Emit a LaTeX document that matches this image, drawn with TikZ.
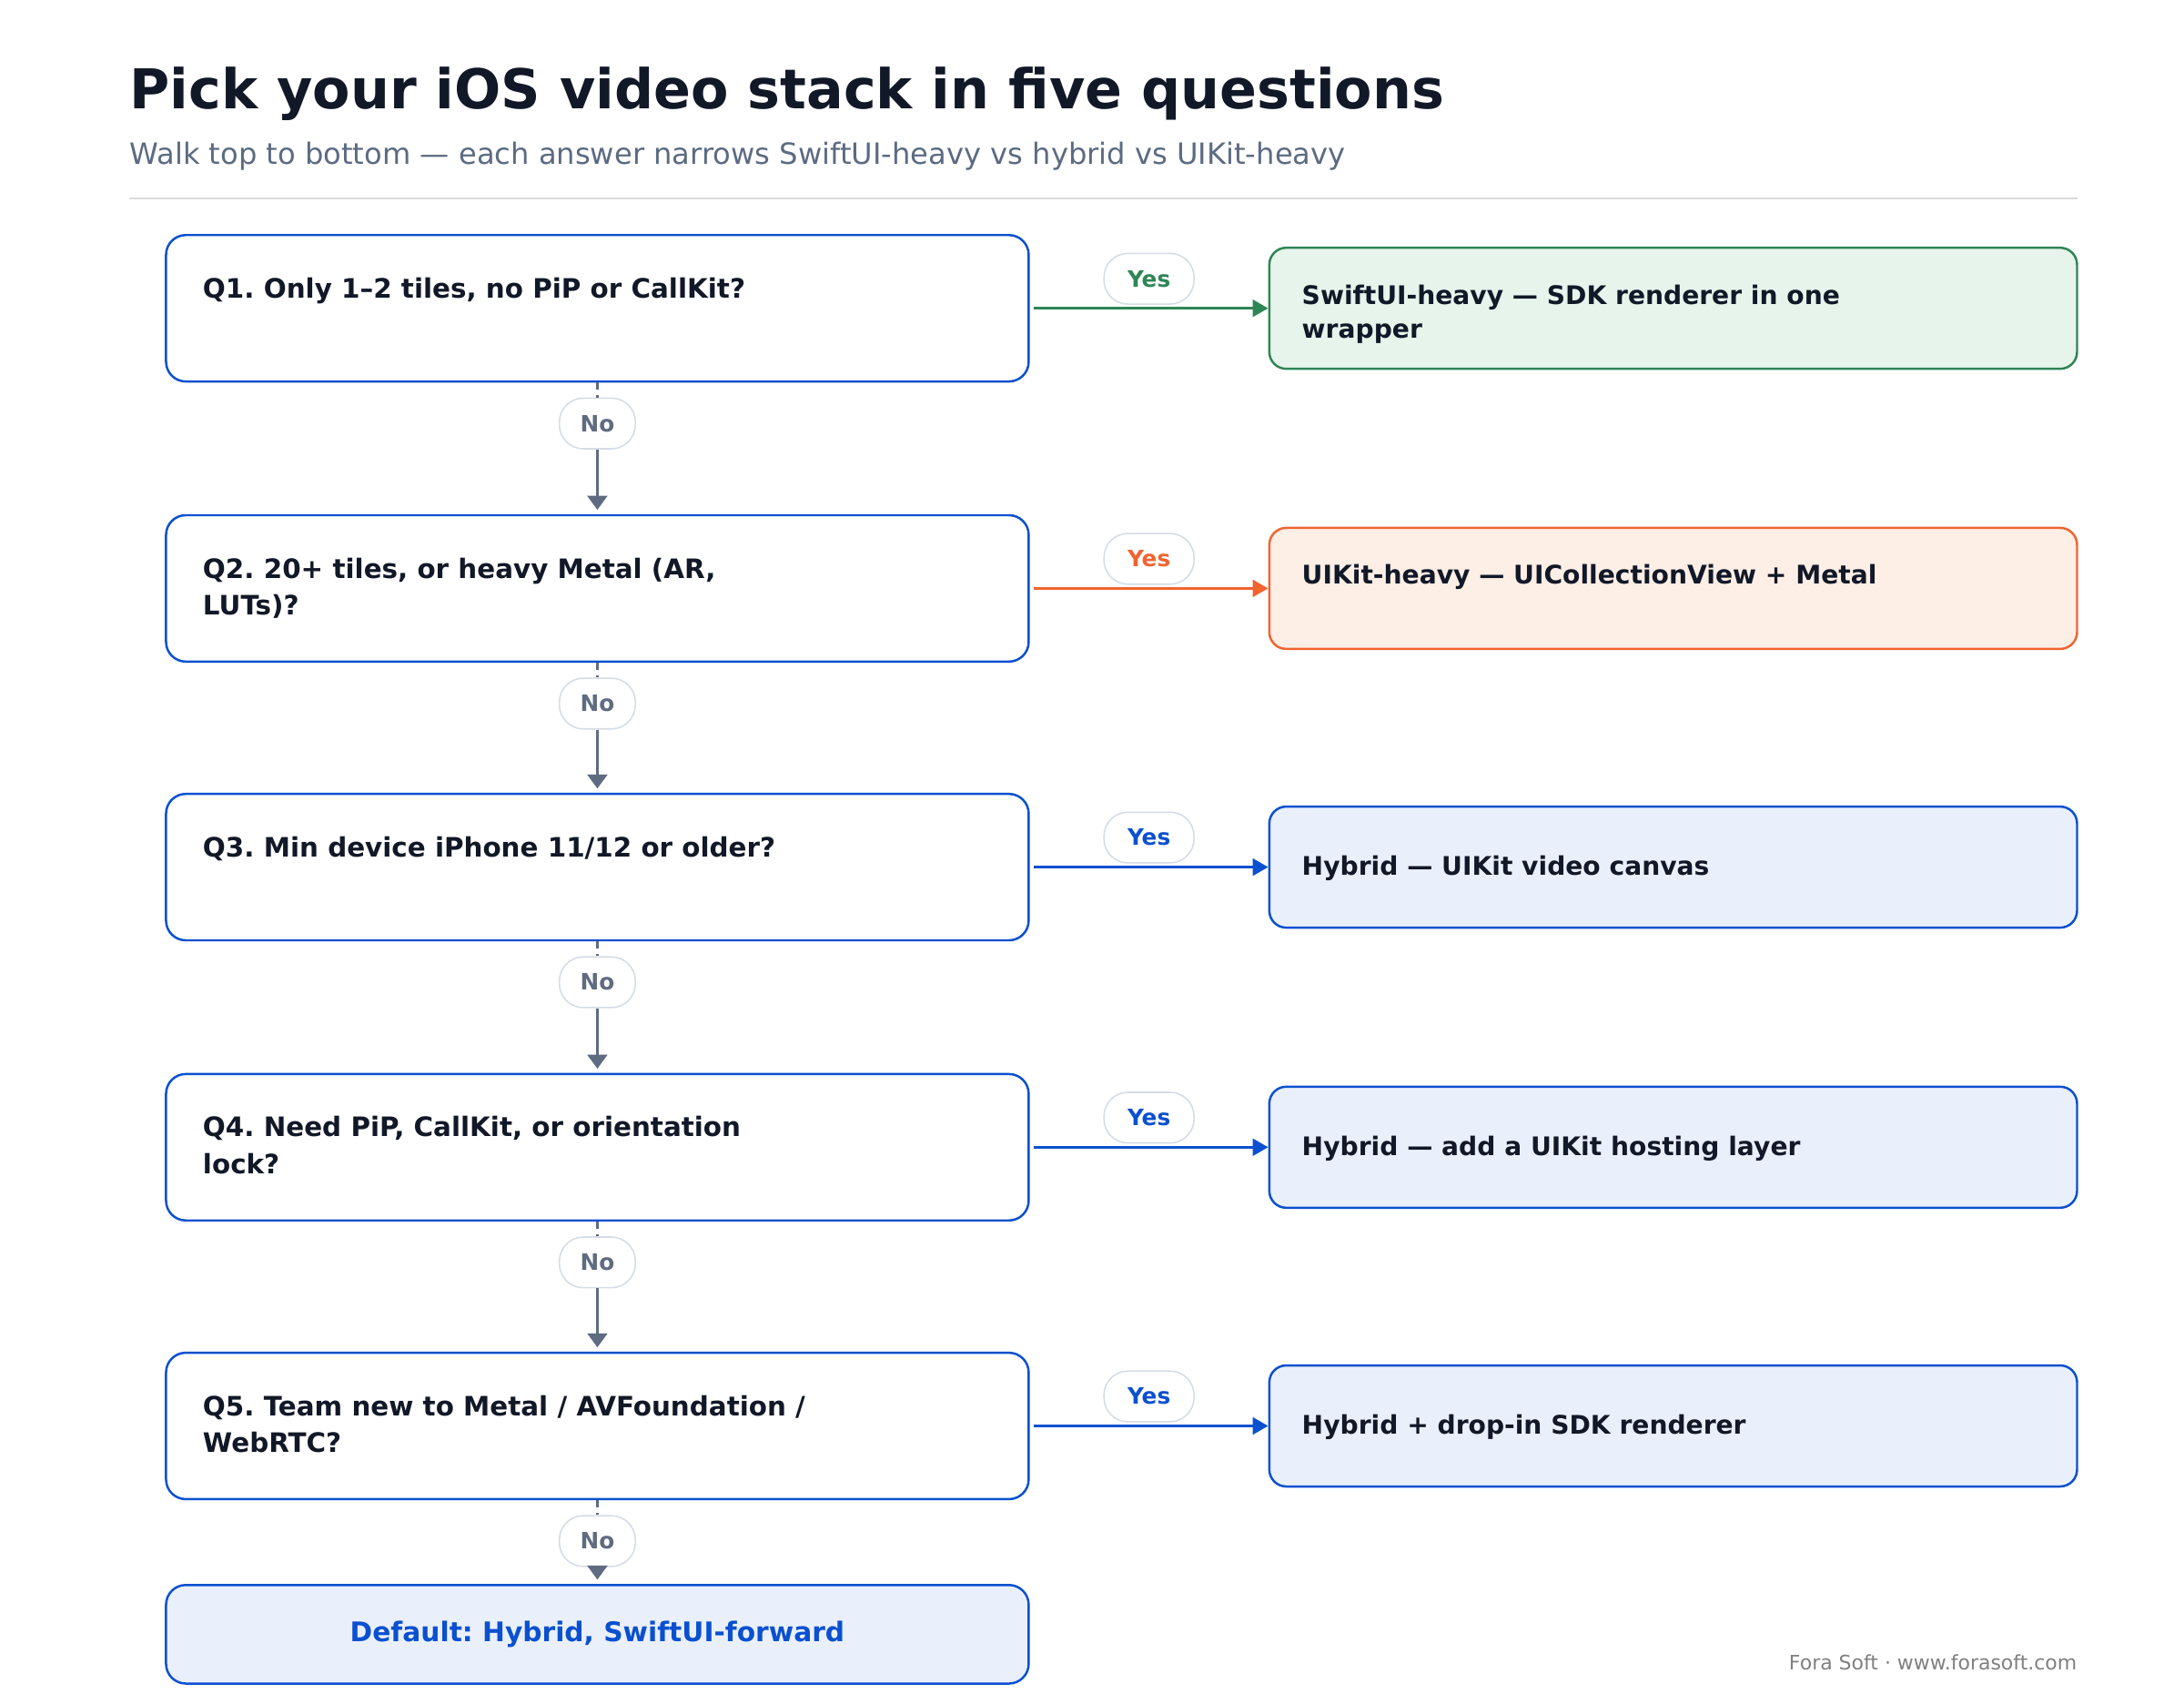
\documentclass[tikz,border=0pt]{standalone}
\usepackage{fontspec}
\setmainfont{DejaVu Sans}
\usetikzlibrary{arrows.meta,calc}
\definecolor{ink}{HTML}{111827}
\definecolor{sub}{HTML}{5B6B82}
\definecolor{qblue}{HTML}{0A50D0}
\definecolor{bfill}{HTML}{EAF0FB}
\definecolor{gline}{HTML}{2E8555}
\definecolor{gfill}{HTML}{E6F4EC}
\definecolor{oline}{HTML}{F06430}
\definecolor{ofill}{HTML}{FDEEE6}
\definecolor{noc}{HTML}{5F6B80}
\definecolor{pill}{HTML}{D5DCE6}
\begin{document}
\frenchspacing
\begin{tikzpicture}[x=1pt,y=-1pt,
  qbox/.style={draw=qblue,line width=1.6pt,fill=white,rounded corners=14pt,minimum width=613pt,minimum height=104pt,inner sep=0pt},
  qtxt/.style={anchor=north west,align=left,font=\bfseries\fontsize{19}{26}\selectfont,text=ink,inner sep=0pt},
  abox/.style={draw=#1,line width=1.6pt,rounded corners=12pt,minimum width=574pt,minimum height=86pt,inner sep=0pt},
  atxt/.style={anchor=west,align=left,font=\bfseries\fontsize{18.2}{24}\selectfont,text=ink,inner sep=0pt},
  pillst/.style={draw=pill,line width=1pt,fill=white,rounded corners=17pt,minimum height=36pt,inner sep=0pt,font=\bfseries\fontsize{16}{16}\selectfont},
  yarr/.style={draw=#1,line width=2pt,-{Triangle[length=11pt,width=12pt]}},
  narr/.style={draw=noc,line width=2.2pt,-{Triangle[length=10pt,width=14pt]}},
  ndash/.style={draw=noc,line width=2.2pt,dash pattern=on 5pt off 4pt}]
\useasboundingbox[fill=white] (0,0) rectangle (1552,1203);
\node[anchor=base west,inner sep=0pt,font=\bfseries\fontsize{39}{44}\selectfont,text=ink] (title) at (92,77) {Pick your iOS video stack in five questions};
\node[anchor=base west,inner sep=0pt,font=\fontsize{20.8}{24}\selectfont,text=sub] (subt) at (92,117) {Walk top to bottom — each answer narrows SwiftUI-heavy vs hybrid vs UIKit-heavy};
\coordinate (r1) at (92,141); \coordinate (r2) at (1476,141);
\draw[gray!30,line width=1pt] (r1) -- (r2);
% questions
\foreach \i/\y/\t in {1/219/{Q1. Only 1–2 tiles, no PiP or CallKit?},
                     2/418/{Q2. 20+ tiles, or heavy Metal (AR,\\LUTs)?},
                     3/616/{Q3. Min device iPhone 11/12 or older?},
                     4/815/{Q4. Need PiP, CallKit, or orientation\\lock?},
                     5/1013/{Q5. Team new to Metal / AVFoundation /\\WebRTC?}} {
  \node[qbox] (q\i) at (424.5,\y) {};
  \node[qtxt] (qt\i) at (144,\y-22) {\t};
}
% answers
\node[abox=gline,fill=gfill] (a1) at (1189,219) {};
\node[atxt] (at1) at (925,223) {SwiftUI-heavy — SDK renderer in one\\wrapper};
\node[abox=oline,fill=ofill] (a2) at (1189,418) {};
\node[atxt] (at2) at (925,410) {UIKit-heavy — UICollectionView + Metal};
\node[abox=qblue,fill=bfill] (a3) at (1189,616) {};
\node[atxt] (at3) at (925,617) {Hybrid — UIKit video canvas};
\node[abox=qblue,fill=bfill] (a4) at (1189,815) {};
\node[atxt] (at4) at (925,816) {Hybrid — add a UIKit hosting layer};
\node[abox=qblue,fill=bfill] (a5) at (1189,1013) {};
\node[atxt] (at5) at (925,1014) {Hybrid + drop-in SDK renderer};
% yes arrows
\foreach \i/\c in {1/gline,2/oline,3/qblue,4/qblue,5/qblue} {
  \draw[yarr=\c] ([xshift=3pt]q\i.east) -- (a\i.west);
  \node[pillst,minimum width=64pt,text=\c] (y\i) at ($(q\i.east)!0.5!(a\i.west)+(0,-21)$) {Yes};
}
% default
\node[draw=qblue,line width=1.6pt,fill=bfill,rounded corners=14pt,minimum width=613pt,minimum height=70pt,font=\bfseries\fontsize{19.2}{22}\selectfont,text=qblue] (def) at (424.5,1161) {Default: Hybrid, SwiftUI-forward};
% no connectors
\foreach \i/\n in {1/q2,2/q3,3/q4,4/q5,5/def} {
  \node[pillst,minimum width=54pt,text=noc] (n\i) at ($(q\i.south)+(0,29)$) {No};
  \draw[ndash] (q\i.south) -- (n\i.north);
  \draw[narr] (n\i.south) -- ($(\n.north)+(0,-3)$);
}
\node[anchor=base east,inner sep=0pt,font=\fontsize{14.2}{16}\selectfont,text=gray] (foot) at (1476,1186) {Fora Soft · www.forasoft.com};
\end{tikzpicture}
\end{document}
